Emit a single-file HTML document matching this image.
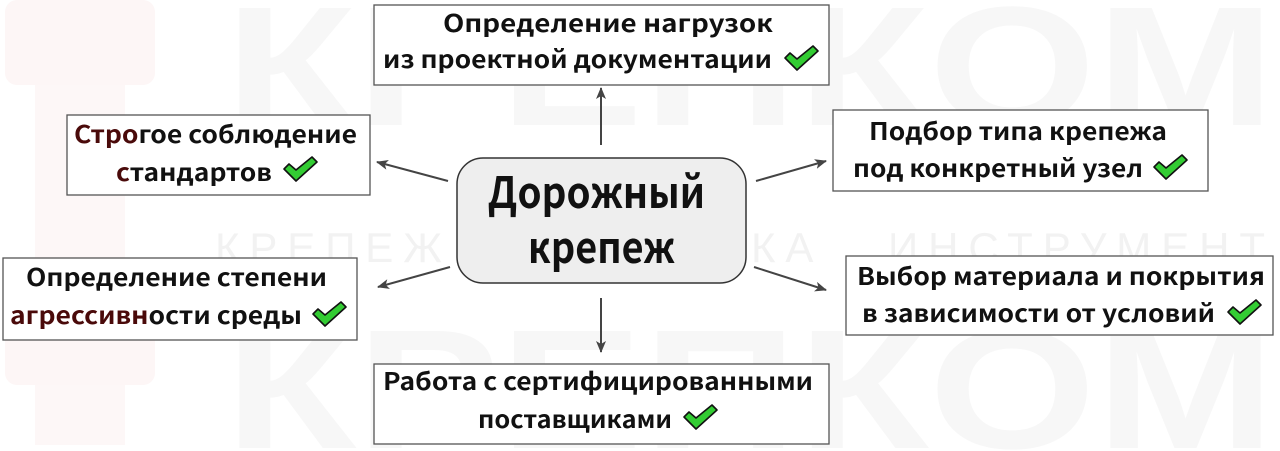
<!DOCTYPE html>
<html><head><meta charset="utf-8"><style>
html,body{margin:0;padding:0;background:#fff;width:1280px;height:451px;overflow:hidden;}
svg{display:block;}
text{font-family:"Liberation Sans","Noto Sans CJK SC",sans-serif;}
.t{font-family:"Noto Sans CJK SC","Liberation Sans",sans-serif;font-weight:700;font-size:24px;fill:#111;}
.c{font-family:"Noto Sans CJK SC","Liberation Sans",sans-serif;font-weight:700;font-size:43px;fill:#111;}
.wm{font-family:"Liberation Sans","Noto Sans CJK SC",sans-serif;font-weight:700;fill:#f7f7f7;}
.box{fill:#fff;stroke:#555;stroke-width:1.3;}
.ar{stroke:#444;stroke-width:2;fill:none;}
</style></head><body>
<svg width="1280" height="451" viewBox="0 0 1280 451" xmlns="http://www.w3.org/2000/svg">
<defs>
<marker id="m" markerWidth="12" markerHeight="10" refX="11" refY="5" orient="auto" markerUnits="userSpaceOnUse">
<path d="M0,0 L12,5 L0,10 L3,5 Z" fill="#444"/>
</marker>
<g id="ck"><path d="M0,12 L5,7 L12,13 L28,0 L33,5 L12,24 Z" fill="#3c3" stroke="#111" stroke-width="1.6" stroke-linejoin="round"/></g>
</defs>
<g>
<rect x="5" y="0" width="150" height="85" rx="12" fill="#fdf6f6"/>
<rect x="35" y="85" width="90" height="360" fill="#fdf7f7"/>
<rect x="5" y="300" width="150" height="85" rx="12" fill="#fdf6f6"/>
</g>
<text class="wm" x="225" y="125" font-size="170" textLength="1050" lengthAdjust="spacingAndGlyphs">КРЕПКОМ</text>
<text class="wm" x="225" y="448" font-size="170" textLength="1050" lengthAdjust="spacingAndGlyphs">КРЕПКОМ</text>
<text x="215" y="262" font-size="42" fill="#f2f2f2" textLength="1050" lengthAdjust="spacing">КРЕПЕЖ . ОСНАСТКА . ИНСТРУМЕНТ</text>

<line class="ar" x1="601" y1="145" x2="601" y2="88" marker-end="url(#m)"/>
<line class="ar" x1="601" y1="298" x2="601" y2="352" marker-end="url(#m)"/>
<line class="ar" x1="448" y1="181" x2="377" y2="162" marker-end="url(#m)"/>
<line class="ar" x1="450" y1="267" x2="378" y2="287" marker-end="url(#m)"/>
<line class="ar" x1="756" y1="181" x2="826" y2="161" marker-end="url(#m)"/>
<line class="ar" x1="754" y1="267" x2="826" y2="290" marker-end="url(#m)"/>

<rect x="457" y="158" width="289" height="125" rx="26" fill="#eeeeee" stroke="#333" stroke-width="1.5"/>
<text class="c" x="488" y="208" textLength="217" lengthAdjust="spacingAndGlyphs">Дорожный</text>
<text class="c" x="528" y="263" textLength="147" lengthAdjust="spacingAndGlyphs">крепеж</text>

<rect class="box" x="374" y="5" width="455" height="80"/>
<text class="t" x="443" y="32" textLength="330" lengthAdjust="spacingAndGlyphs">Определение нагрузок</text>
<text class="t" x="383" y="68" textLength="389" lengthAdjust="spacingAndGlyphs">из проектной документации</text>
<use href="#ck" x="785" y="46"/>

<rect class="box" x="67" y="115" width="303" height="80"/>
<text class="t" x="74" y="143" textLength="283" lengthAdjust="spacingAndGlyphs"><tspan fill="#4a0a0a">Стро</tspan>гое соблюдение</text>
<text class="t" x="116" y="181" textLength="156" lengthAdjust="spacingAndGlyphs"><tspan fill="#4a0a0a">с</tspan>тандартов</text>
<use href="#ck" x="284" y="157"/>

<rect class="box" x="3" y="258" width="354" height="82"/>
<text class="t" x="26" y="286" textLength="301" lengthAdjust="spacingAndGlyphs">Определение степени</text>
<text class="t" x="10" y="324" textLength="292" lengthAdjust="spacingAndGlyphs"><tspan fill="#4a0a0a">агрессивн</tspan>ости среды</text>
<use href="#ck" x="313" y="302"/>

<rect class="box" x="374" y="364" width="455" height="80"/>
<text class="t" x="383" y="390" textLength="430" lengthAdjust="spacingAndGlyphs">Работа с сертифицированными</text>
<text class="t" x="478" y="428" textLength="194" lengthAdjust="spacingAndGlyphs">поставщиками</text>
<use href="#ck" x="684" y="405"/>

<rect class="box" x="833" y="110" width="375" height="81"/>
<text class="t" x="869" y="140" textLength="298" lengthAdjust="spacingAndGlyphs">Подбор типа крепежа</text>
<text class="t" x="853" y="177" textLength="290" lengthAdjust="spacingAndGlyphs">под конкретный узел</text>
<use href="#ck" x="1154" y="155"/>

<rect class="box" x="846" y="256" width="427" height="79"/>
<text class="t" x="857" y="285" textLength="408" lengthAdjust="spacingAndGlyphs">Выбор материала и покрытия</text>
<text class="t" x="862" y="322" textLength="353" lengthAdjust="spacingAndGlyphs">в зависимости от условий</text>
<use href="#ck" x="1228" y="300"/>
</svg>
</body></html>
